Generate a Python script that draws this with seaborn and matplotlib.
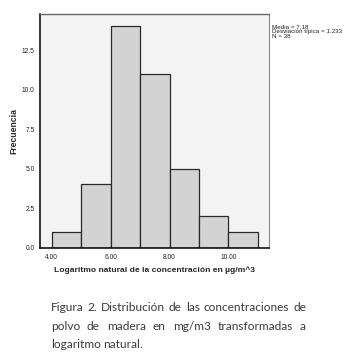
import matplotlib
matplotlib.use("Agg")
import matplotlib.pyplot as plt
import seaborn as sns
import numpy as np

# Data
bin_edges = [4, 5, 6, 7, 8, 9, 10, 11]
counts = [1, 4, 14, 11, 5, 2, 1]
x_ticks = [4, 6, 8, 10]
x_ticklabels = ["4.00", "6.00", "8.00", "10.00"]
y_ticks = [0, 2.5, 5.0, 7.5, 10.0, 12.5]
y_ticklabels = ["0.0", "2.5", "5.0", "7.5", "10.0", "12.5"]
stats_text = "Media = 7,18\nDesviación típica = 1.233\nN = 38"
xlabel = "Logaritmo natural de la concentración en µg/m^3"
ylabel = "Frecuencia"
caption_lines = [
    "Figura 2. Distribución de las concentraciones de",
    "polvo de madera en mg/m3 transformadas a",
    "logaritmo natural.",
]

sns.set_style("white")
plt.rcParams["font.family"] = ["Liberation Sans", "DejaVu Sans"]

W, H = 362, 359
fig = plt.figure(figsize=(W / 100, H / 100), dpi=100)
fig.patch.set_facecolor("white")

ax_l, ax_r, ax_t, ax_b = 40.3, 269.3, 14.0, 247.7
ax = fig.add_axes([ax_l / W, 1 - ax_b / H, (ax_r - ax_l) / W, (ax_b - ax_t) / H])
ax.set_facecolor("#f3f3f3")

centers = [(bin_edges[i] + bin_edges[i + 1]) / 2 for i in range(len(counts))]
sns.histplot(x=centers, weights=counts, bins=bin_edges, ax=ax,
             color="#d3d3d3", edgecolor="#2a2a2a", linewidth=0.9, alpha=1.0)

ax.set_xlim(3.61, 11.39)
ax.set_ylim(0, 14.79)
ax.set_xticks(x_ticks)
ax.set_xticklabels(x_ticklabels)
ax.set_yticks(y_ticks)
ax.set_yticklabels(y_ticklabels)
ax.tick_params(axis="both", direction="out", length=3, width=0.8, color="black",
               labelsize=4.8, labelcolor="#222222", pad=1.0)
ax.tick_params(axis="x", pad=1.5)

ax.set_xlabel(xlabel, fontsize=6.1, fontweight="bold", labelpad=4)
ax.set_ylabel(ylabel, fontsize=6.2, fontweight="bold", labelpad=2.5)

for side in ["left", "bottom"]:
    ax.spines[side].set_color("black")
    ax.spines[side].set_linewidth(1.1)
ax.spines["top"].set_color("#666666")
ax.spines["top"].set_linewidth(1.0)
ax.spines["right"].set_color("#888888")
ax.spines["right"].set_linewidth(0.8)

fig.text(272.3 / W, 1 - 24.5 / H, stats_text, fontsize=4.5, va="top", ha="left",
         color="#222222", linespacing=0.95)

# Caption, justified
cap_font = {"family": ["Lato", "DejaVu Sans"], "weight": "normal"}
cap_size = 9.0
renderer = fig.canvas.get_renderer()
x0, x1 = 50.7, 306.0
line_y = [307.5, 326.5, 345.0]


def word_width(w, size):
    t = fig.text(0, 0, w, fontsize=size, fontdict=cap_font)
    bb = t.get_window_extent(renderer=renderer)
    t.remove()
    return bb.width

nat = word_width(caption_lines[0], cap_size)
if nat > (x1 - x0):
    cap_size = cap_size * (x1 - x0) / nat * 0.98

for i, line in enumerate(caption_lines):
    words = line.split(" ")
    widths = [word_width(w, cap_size) for w in words]
    if i < len(caption_lines) - 1 and len(words) > 1:
        gap = ((x1 - x0) - sum(widths)) / (len(words) - 1)
    else:
        gap = word_width("a b", cap_size) - word_width("ab", cap_size)
    x = x0
    for w, ww in zip(words, widths):
        fig.text(x / W, 1 - line_y[i] / H, w, fontsize=cap_size, fontdict=cap_font,
                 va="center", ha="left", color="#3a3a3a")
        x += ww + gap

fig.savefig("out.png", dpi=100, facecolor="white")
